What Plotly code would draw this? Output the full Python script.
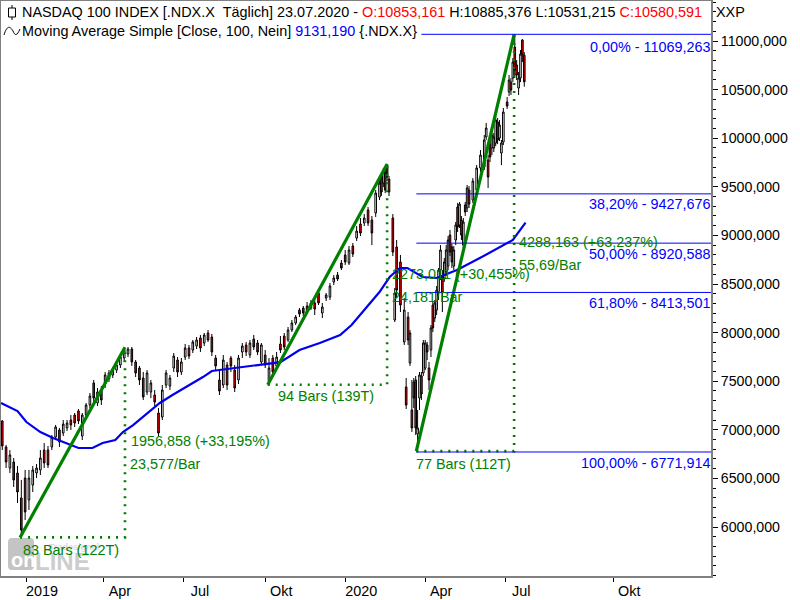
import plotly.graph_objects as go

# ---------- daily candles (bar number, O, H, L, C) ----------
bars = [1,4,7,10,13,16,19,22,25,28,31,34,37,40,43,46,49,52,55,58,61,64,67,70,73,76,79,82,85,88,91,94,97,100,
103,106,109,112,115,118,121,124,127,130,133,136,139,142,145,148,151,154,157,160,163,166,169,172,175,178,181,184,187,190,
193,196,199,202,205,208,211,214,217,220,223,226,229,232,235,238,241,244,247,250,253,256,259,262,265,268,271,274,277,280,283,286,289,292,295,
298,299.5,301,302.5,304,305.5,308.5,310,311.5,314.5,317.5,319,320.5,322,323.5,325,326.5,328,329.5,331,332.5,334,335.5,337,338.5,340,341.5,343,344.5,
346,347.5,349,350.5,352,353.5,355,356.5,358,359.5,361,362.5,364,365.5,367,368.5,371.5,374.5,377.5,380.5,382,383.5,385,386.5,388,389.5,391,392.5,394,395.5,
398.5,400,401.5,403,404.5,406,407.5,409,410.5,412]
opens = [7091,6823,6607,6669,6556,6299,6504,6278,6432,6556,6587,6792,6792,6823,6926,6998,6967,7019,7101,7152,7194,6936,7152,7255,7482,7276,7410,7471,7523,7564,7615,7667,7739,7780,
7831,7698,7636,7533,7389,7389,7358,7173,7132,7461,7451,7636,7718,7595,7749,7842,7821,7862,7945,7893,7996,7955,7739,7513,7461,7667,7739,7615,7513,7801,
7873,7770,7934,7893,7698,7770,7502,7739,7657,7883,7965,7924,8027,8099,8233,8253,8274,8253,8305,8408,8202,8356,8366,8521,8593,8716,8799,8716,8891,8973,9117,9128,9262,9159,9231,
9395,9591,9539,9652,9724,9580,9179,8130,8881,8727,7904,7441,8161,7687,7204,7492,7513,6957,7327,7554,7585,7636,7873,7636,7821,8284,8150,8233,8418,
8644,8572,8562,8624,8685,9004,8881,8685,8953,9292,9107,9159,8901,9313,9282,9467,9364,9467,9694,9704,10013,9776,9940,9899,9899,9951,10167,10002,9848,9961,
10373,10475,10578,10620,10938,10753,10517,10620,11010,10853.161]
highs = [7101,6844,6792,6710,6628,6484,6587,6587,6628,6648,6792,6864,6834,6947,7050,7019,7101,7101,7152,7173,7214,7173,7276,7379,7513,7430,7451,7595,7615,7646,7698,7780,7842,7852,
7852,7718,7657,7595,7615,7513,7410,7224,7461,7615,7564,7790,7749,7739,7883,7873,7924,7955,7976,7996,8027,7986,7770,7605,7770,7698,7759,7667,7770,7893,
7904,7924,7976,7924,7893,7821,7739,7770,7801,7965,7996,8058,8130,8181,8253,8274,8315,8336,8336,8449,8305,8408,8510,8593,8624,8747,8850,8891,8922,9097,9179,9220,9292,9200,9467,
9591,9622,9694,9694,9736,9611,9220,8459,8953,8799,8356,7533,8212,8027,7513,7533,7554,7204,7595,7595,7924,7924,7904,7698,8078,8315,8336,8480,8665,
8901,8644,8768,8901,8994,9056,8912,8891,9138,9334,9344,9200,9179,9344,9519,9508,9591,9724,9879,10033,10157,9827,9982,10064,10054,10229,10208,10187,9982,10311,
10424,10650,10620,10825,11069.263,10805,10681,10908,11021,10885.376]
lows = [6792,6607,6556,6412,6247,5893,6072,6175,6360,6504,6535,6607,6607,6792,6895,6823,6936,6988,6998,7029,7060,6895,7111,7224,7286,7245,7255,7430,7492,7533,7585,7636,7698,7749,
7657,7543,7461,7307,7358,7327,7245,6936,7101,7430,7410,7595,7543,7564,7718,7729,7790,7831,7801,7862,7904,7759,7615,7358,7430,7410,7595,7389,7471,7739,
7759,7739,7821,7770,7667,7636,7463,7554,7615,7790,7821,7904,8006,8078,8161,8171,8192,8233,8181,8284,8150,8325,8336,8490,8531,8644,8696,8696,8778,8943,8994,9097,9097,8901,9190,
9364,9406,9498,9436,9560,9406,8788,8109,8356,8212,7873,7214,7873,7657,6978,7224,6947,6823,7204,7307,7554,7615,7718,7410,7749,8006,8109,8181,8336,
8541,8212,8521,8582,8644,8788,8665,8644,8901,9035,9076,8953,8870,9200,9241,9282,9334,9436,9652,9673,9982,9488,9755,9827,9858,9920,9940,9971,9724,9930,
10301,10434,10445,10578,10620,10599,10445,10578,10784,10531.215]
closes = [6834,6669,6741,6484,6360,5969,6155,6504,6587,6607,6710,6659,6638,6926,7029,6875,7060,7070,7050,7070,7091,7152,7255,7348,7327,7389,7307,7564,7585,7626,7667,7749,7821,7831,
7698,7585,7513,7338,7585,7482,7286,6967,7410,7585,7533,7759,7595,7698,7842,7759,7904,7924,7842,7976,7924,7801,7657,7399,7718,7461,7657,7430,7739,7862,
7801,7893,7852,7801,7873,7667,7636,7595,7749,7821,7852,8027,8099,8161,8192,8202,8212,8305,8243,8305,8264,8387,8480,8562,8552,8665,8727,8850,8809,9045,9025,9179,9128,9025,9436,
9539,9447,9652,9467,9601,9447,8829,8408,8438,8284,8233,7255,7924,7996,7019,7327,7019,7019,7564,7369,7893,7893,7801,7513,8048,8048,8305,8438,8644,
8850,8408,8727,8850,8953,8829,8727,8850,9107,9087,9323,9004,9138,9241,9488,9323,9560,9694,9827,9982,10105,9601,9807,10033,10013,10187,9982,10136,9951,10270,
10331,10599,10496,10784,10702,10650,10620,10866,10856,10580.591]

# ---------- simple moving average ----------
ma_bars = [0,13,20,31,41,54,61,72,80,90,96,104,115,125,135,149,159,166,183,204,220,235,251,267,276,288,298,306,314,320,332,343,359,377,391,403,413]
ma_values = [7276,7193,7080,6977,6916,6844,6813,6813,6864,6895,6977,7049,7173,7276,7358,7461,7543,7605,7636,7667,7697,7821,7893,7975,8078,8263,8418,8572,8665,8665,8572,8562,8644,8767,8870,8953,9131.19]

# ---------- trend legs: start bar, end bar, start price, end price ----------
leg_start_bars = [15, 210, 327]
leg_end_bars = [97.6, 304, 404]
leg_start_prices = [5893, 7463, 6781]
leg_end_prices = [7850, 9736, 11069.263]

# ---------- Fibonacci levels ----------
fib_prices = [11069.263, 9427.676, 8920.588, 8413.501, 6771.914]
fib_labels = ["0,00% - 11069,263", "38,20% - 9427,676", "50,00% - 8920,588", "61,80% - 8413,501", "100,00% - 6771,914"]
fib_start_bars = [331, 327, 327, 327, 327]

# ---------- axes ----------
x_tick_bars = [19.7, 81, 144, 208, 271, 334, 397, 482]
x_tick_labels = ["2019", "Apr", "Jul", "Okt", "2020", "Apr", "Jul", "Okt"]
y_ticks = [6000, 6500, 7000, 7500, 8000, 8500, 9000, 9500, 10000, 10500, 11000]

FONT = "Liberation Sans"
GREEN = "#008000"
BLUE = "#0000ff"
W, L, T, B = 710, 1, 1, 576
X_RANGE = [0, 559]


def px(x):
    return (x - L) / W


def py(y):
    return (B - y) / (B - T)


fig = go.Figure()


def candles(keep, axis):
    idx = [i for i, b in enumerate(bars) if keep(b)]
    fig.add_trace(go.Candlestick(
        x=[bars[i] for i in idx], open=[opens[i] for i in idx], high=[highs[i] for i in idx],
        low=[lows[i] for i in idx], close=[closes[i] for i in idx], whiskerwidth=0, xaxis=axis,
        increasing=dict(line=dict(color="black", width=1), fillcolor="white"),
        decreasing=dict(line=dict(color="black", width=1), fillcolor="#ff0000"),
        showlegend=False))


# the bars sit on a grid of 1,5; two overlaid axes keep the candle bodies wide
candles(lambda b: b == int(b), "x")
candles(lambda b: b != int(b), "x2")

fig.add_trace(go.Scatter(x=ma_bars, y=ma_values, mode="lines", showlegend=False, xaxis="x2",
                         line=dict(color="#0000f0", width=2.2)))

for i in range(3):
    fig.add_trace(go.Scatter(
        x=[leg_start_bars[i], leg_end_bars[i], leg_end_bars[i]],
        y=[leg_start_prices[i], leg_start_prices[i], leg_end_prices[i]],
        mode="lines", showlegend=False, xaxis="x2",
        line=dict(color=GREEN, width=2.6, dash="2px,6px")))
    fig.add_trace(go.Scatter(
        x=[leg_start_bars[i], leg_end_bars[i]],
        y=[leg_start_prices[i], leg_end_prices[i]],
        mode="lines", showlegend=False, xaxis="x2", line=dict(color=GREEN, width=3.2)))

for p, s in zip(fib_prices, fib_start_bars):
    fig.add_trace(go.Scatter(x=[s, 559], y=[p, p], mode="lines", showlegend=False, xaxis="x2",
                             line=dict(color=BLUE, width=1)))

annotations = []


def text(x, y, s, color="black", anchor="left", size=14.4, bold=False):
    annotations.append(dict(
        x=px(x), y=py(y), xref="paper", yref="paper", text=f"<b>{s}</b>" if bold else s,
        showarrow=False, xanchor=anchor, yanchor="middle", borderpad=0,
        font=dict(family=FONT, size=size, color=color)))


red = lambda s: f'<span style="color:#ff0000">{s}</span>'

# watermark first so that the labels lie on top of it
text(10, 560, "on", "white", size=20, bold=True)
text(34, 561, "LINE", "#cdcdcd", size=24, bold=True)
text(48, 547, "Tradesignal", "#dcdcdc", size=9, bold=True)

text(21, 12, "NASDAQ 100 INDEX [.NDX.X\u00a0\u00a0Täglich] 23.07.2020 - " + red("O:10853,161")
     + " H:10885,376 L:10531,215 " + red("C:10580,591"))
text(21, 31, 'Moving Average Simple [Close, 100, Nein] <span style="color:#0000ff">9131,190</span> {.NDX.X}')
text(715, 12, "XXP")

text(712, 47, fib_labels[0], BLUE, "right")
text(712, 204, fib_labels[1], BLUE, "right")
text(712, 254, fib_labels[2], BLUE, "right")
text(712, 303, fib_labels[3], BLUE, "right")
text(712, 463, fib_labels[4], BLUE, "right")

text(130, 441, "1956,858 (+33,195%)", GREEN)
text(129, 464, "23,577/Bar", GREEN)
text(22, 550, "83 Bars (122T)", GREEN)
text(277, 396, "94 Bars (139T)", GREEN)
text(415, 464, "77 Bars (112T)", GREEN)
text(391, 274, "2273,011 (+30,455%)", GREEN)
text(391, 297, "24,181/Bar", GREEN)
text(518, 242, "4288,163 (+63,237%)", GREEN)
text(518, 265, "55,69/Bar", GREEN)

shapes = [
    # watermark tile
    dict(type="path", xref="paper", yref="paper", layer="below", line=dict(width=0), fillcolor="#c4c4c4",
         path=f"M {px(12)} {py(538)} L {px(30)} {py(538)} Q {px(34)} {py(538)} {px(34)} {py(542)} "
              f"L {px(34)} {py(566)} Q {px(34)} {py(570)} {px(30)} {py(570)} L {px(12)} {py(570)} "
              f"Q {px(8)} {py(570)} {px(8)} {py(566)} L {px(8)} {py(542)} Q {px(8)} {py(538)} {px(12)} {py(538)} Z"),
    # candle icon
    dict(type="line", xref="paper", yref="paper", x0=px(12), x1=px(12), y0=py(5), y1=py(20),
         line=dict(color="black", width=1)),
    dict(type="rect", xref="paper", yref="paper", x0=px(8.5), x1=px(15.5), y0=py(8), y1=py(17),
         fillcolor="white", line=dict(color="black", width=1)),
    # curve icon
    dict(type="path", xref="paper", yref="paper", line=dict(color="black", width=1),
         path=f"M {px(4)} {py(35)} C {px(7)} {py(25)} {px(10)} {py(26)} {px(13)} {py(31)} "
              f"C {px(15)} {py(36)} {px(17)} {py(36)} {px(20)} {py(29)}"),
]

fig.update_layout(
    width=800, height=600, autosize=False,
    margin=dict(l=L, r=800 - L - W, t=T, b=600 - B, pad=0),
    paper_bgcolor="white", plot_bgcolor="white",
    font=dict(family=FONT, size=14.4, color="black"),
    separators=",.", boxgap=0.4, showlegend=False,
    annotations=annotations, shapes=shapes,
    xaxis=dict(type="linear", range=X_RANGE, rangeslider=dict(visible=False), showgrid=False, zeroline=False,
               automargin=False, tickmode="array", tickvals=x_tick_bars, ticktext=x_tick_labels, ticks="outside",
               ticklen=4, tickcolor="black", ticklabelshift=16, ticklabelstandoff=-3, showline=True,
               linecolor="#808080", linewidth=2, mirror=True),
    xaxis2=dict(type="linear", range=X_RANGE, overlaying="x", visible=False, automargin=False,
                rangeslider=dict(visible=False)),
    yaxis=dict(side="right", range=[5496, 11412], showgrid=False, zeroline=False, automargin=False,
               tickmode="array", tickvals=y_ticks, tickformat=".3f", ticks="outside", ticklen=5, tickcolor="black",
               tickfont=dict(size=14.2),
               minor=dict(tickmode="linear", tick0=0, dtick=100, ticks="outside", ticklen=3, tickcolor="black"),
               showline=True, linecolor="#808080", linewidth=2, mirror=True),
)

fig.write_html("out.html", config=dict(displayModeBar=False),
               post_script="document.body.style.margin='0';document.documentElement.style.overflow='hidden';")
